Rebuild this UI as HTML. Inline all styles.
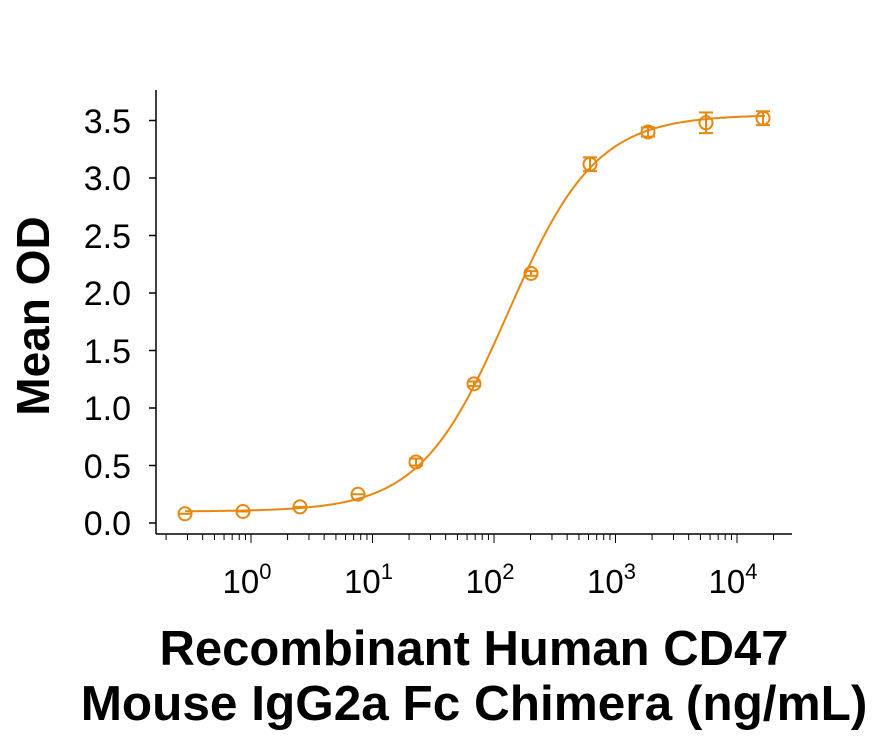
<!DOCTYPE html>
<html><head><style>body{margin:0;background:#fff}svg{display:block}</style></head>
<body>
<svg id="s" width="872" height="738" xmlns="http://www.w3.org/2000/svg" font-family="Liberation Sans, Arial, sans-serif">
<g stroke="#000" stroke-width="1.5" fill="none">
<line x1="156" y1="90" x2="156" y2="534"/>
<line x1="156" y1="534" x2="792" y2="534"/>
</g>
<g id="yt" stroke="#000" stroke-width="1.5"></g>
<g id="xt" stroke="#000" stroke-width="1"></g>
<g font-size="34" text-anchor="end" fill="#000">
<text x="131" y="535">0.0</text><text x="131" y="478">0.5</text><text x="131" y="420">1.0</text>
<text x="131" y="363">1.5</text><text x="131" y="305">2.0</text><text x="131" y="248">2.5</text>
<text x="131" y="190">3.0</text><text x="131" y="133">3.5</text>
</g>
<g font-size="33" fill="#000" text-anchor="middle" id="xl"></g>
<text transform="translate(49,316) rotate(-90)" font-size="46" font-weight="bold" text-anchor="middle">Mean OD</text>
<text x="474" y="665" font-size="49" font-weight="bold" text-anchor="middle">Recombinant Human CD47</text>
<text x="474" y="720" font-size="49.5" font-weight="bold" text-anchor="middle">Mouse IgG2a Fc Chimera (ng/mL)</text>
<path id="curve" fill="none" stroke="#E8870E" stroke-width="2"/>
<g id="pts" fill="none" stroke="#E8870E" stroke-width="2"></g>
</svg>
<script>
const NS="http://www.w3.org/2000/svg";
function el(p,t,a,txt){const e=document.createElementNS(NS,t);for(const k in a)e.setAttribute(k,a[k]);if(txt)e.textContent=txt;document.getElementById(p).appendChild(e);return e;}
const X=l=>251+121.5*l, Y=v=>523-v*115;
for(let i=0;i<=7;i++){const y=Y(i*0.5);el("yt","line",{x1:149,y1:y,x2:156,y2:y});}
for(let d=-1;d<=4;d++){for(let m=1;m<=9;m++){const x=X(d+Math.log10(m));if(x<160||x>792)continue;el("xt","line",{x1:x,y1:534,x2:x,y2:m==1?543:540});}}
for(let d=0;d<=4;d++){const t=el("xl","text",{x:X(d)-4,y:593});t.textContent="10";const s=document.createElementNS(NS,"tspan");s.setAttribute("font-size","22");s.setAttribute("dy","-14");s.textContent=d;t.appendChild(s);}
const f=c=>0.1+3.45/(1+Math.pow(130/c,1.2));
let d="";for(let x=185;x<=765;x+=2){const c=Math.pow(10,(x-251)/121.5);d+=(d?"L":"M")+x+","+Y(f(c)).toFixed(1);}
document.getElementById("curve").setAttribute("d",d);
const xs=[185,243,300,358,416,474,531,590,648,706,763],vs=[0.08,0.1,0.14,0.25,0.53,1.21,2.17,3.12,3.40,3.48,3.52],es=[0,0,0,0,0.03,0.02,0.02,0.06,0.04,0.09,0.06];
xs.forEach((x,i)=>{const y=Y(vs[i]);el("pts","circle",{cx:x,cy:y,r:6.5});
if(es[i]>0){const e=es[i]*115;el("pts","line",{x1:x,y1:y-e,x2:x,y2:y+e});el("pts","line",{x1:x-7,y1:y-e,x2:x+7,y2:y-e});el("pts","line",{x1:x-7,y1:y+e,x2:x+7,y2:y+e});}
else el("pts","line",{x1:x-6.5,y1:y,x2:x+6.5,y2:y});});
</script>
</body></html>
